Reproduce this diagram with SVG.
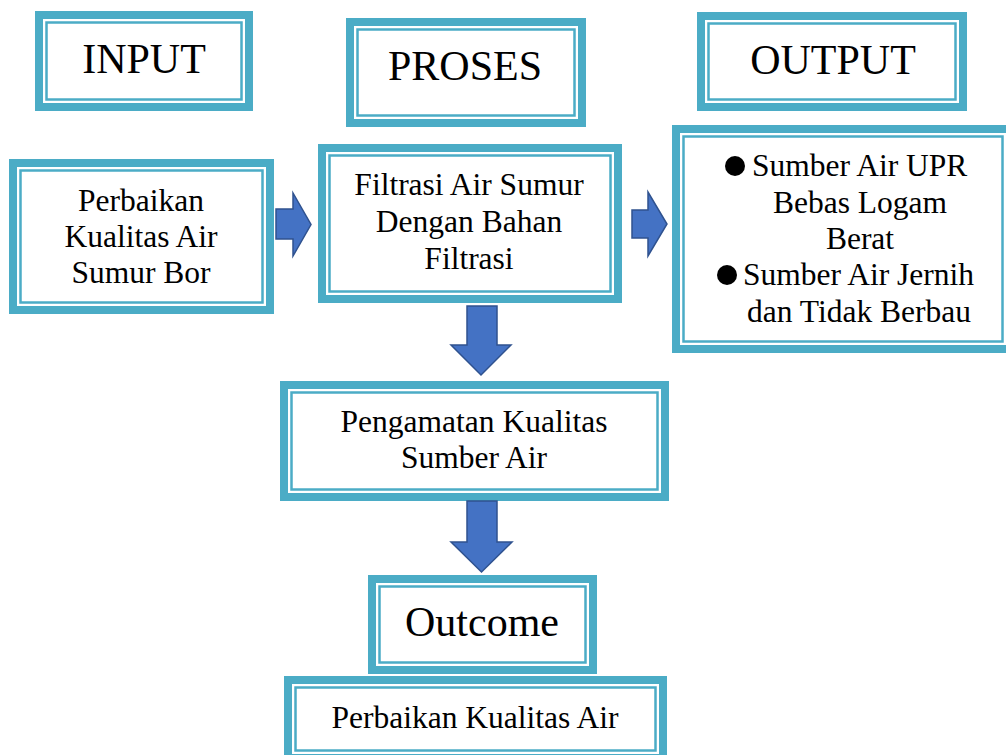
<svg xmlns="http://www.w3.org/2000/svg" width="1006" height="755" viewBox="0 0 1006 755">
<style>
.o{fill:#fff;stroke:#4BACC6;stroke-width:8}
.i{fill:none;stroke:#4BACC6;stroke-width:2.5}
text{font-family:'Liberation Serif','Times New Roman','DejaVu Serif',serif;fill:#000}
.t{text-anchor:middle}
.h{font-size:42px}
.b{font-size:31.5px}
.l{font-size:31.5px}
.a{fill:#4472C4;stroke:#2F528F;stroke-width:1.5;stroke-linejoin:miter}
</style>
<rect width="1006" height="755" fill="#fff"/>
<g id="input">
<rect class="o" x="39" y="15" width="210" height="92"/>
<rect class="i" x="46.5" y="22.5" width="195" height="77"/>
<text class="t h" x="144" y="73">INPUT</text>
</g>
<g id="proses">
<rect class="o" x="350" y="22" width="232" height="101"/>
<rect class="i" x="357.5" y="29.5" width="217" height="86"/>
<text class="t h" x="465" y="80">PROSES</text>
</g>
<g id="output">
<rect class="o" x="701" y="16" width="262" height="91"/>
<rect class="i" x="708.5" y="23.5" width="247" height="76"/>
<text class="t h" x="833" y="74">OUTPUT</text>
</g>
<g id="perbaikan-sumur">
<rect class="o" x="13" y="163" width="257" height="147"/>
<rect class="i" x="20.5" y="170.5" width="242" height="132"/>
<text class="t b" x="141" y="211">Perbaikan</text>
<text class="t b" x="141" y="247">Kualitas Air</text>
<text class="t b" x="141" y="283">Sumur Bor</text>
</g>
<g id="filtrasi">
<rect class="o" x="322" y="148" width="296" height="151"/>
<rect class="i" x="329.5" y="155.5" width="281" height="136"/>
<text class="t b" x="469" y="195">Filtrasi Air Sumur</text>
<text class="t b" x="469" y="232">Dengan Bahan</text>
<text class="t b" x="469" y="269">Filtrasi</text>
</g>
<g id="output-list">
<rect class="o" x="676" y="129" width="334" height="220"/>
<rect class="i" x="683.5" y="136.5" width="319" height="205"/>
<circle cx="735" cy="166" r="10" fill="#000"/>
<text class="l" x="752" y="176">Sumber Air UPR</text>
<text class="t b" x="860" y="213">Bebas Logam</text>
<text class="t b" x="860" y="249">Berat</text>
<circle cx="727" cy="275" r="10" fill="#000"/>
<text class="l" x="743" y="285">Sumber Air Jernih</text>
<text class="l" x="747" y="322">dan Tidak Berbau</text>
</g>
<g id="pengamatan">
<rect class="o" x="284" y="385" width="381" height="112"/>
<rect class="i" x="291.5" y="392.5" width="366" height="97"/>
<text class="t b" x="474" y="432">Pengamatan Kualitas</text>
<text class="t b" x="474" y="468">Sumber Air</text>
</g>
<g id="outcome">
<rect class="o" x="372" y="579" width="221" height="91"/>
<rect class="i" x="379.5" y="586.5" width="206" height="76"/>
<text class="t h" x="482" y="636">Outcome</text>
</g>
<g id="perbaikan-air">
<rect class="o" x="288" y="680" width="375" height="78"/>
<rect class="i" x="295.5" y="687.5" width="360" height="63"/>
<text class="t b" x="475" y="728">Perbaikan Kualitas Air</text>
</g>
<g id="connectors">
<polygon class="a" points="276,209 293,209 293,193 311,224.5 293,256 293,239 276,239"/>
<polygon class="a" points="632,210 648,210 648,192 667,224 648,256 648,238 632,238"/>
<polygon class="a" points="467,306 497,306 497,345 511,345 481,375 451,345 467,345"/>
<polygon class="a" points="467,501 497,501 497,542 512,542 481.5,572 451,542 467,542"/>
</g>
</svg>
